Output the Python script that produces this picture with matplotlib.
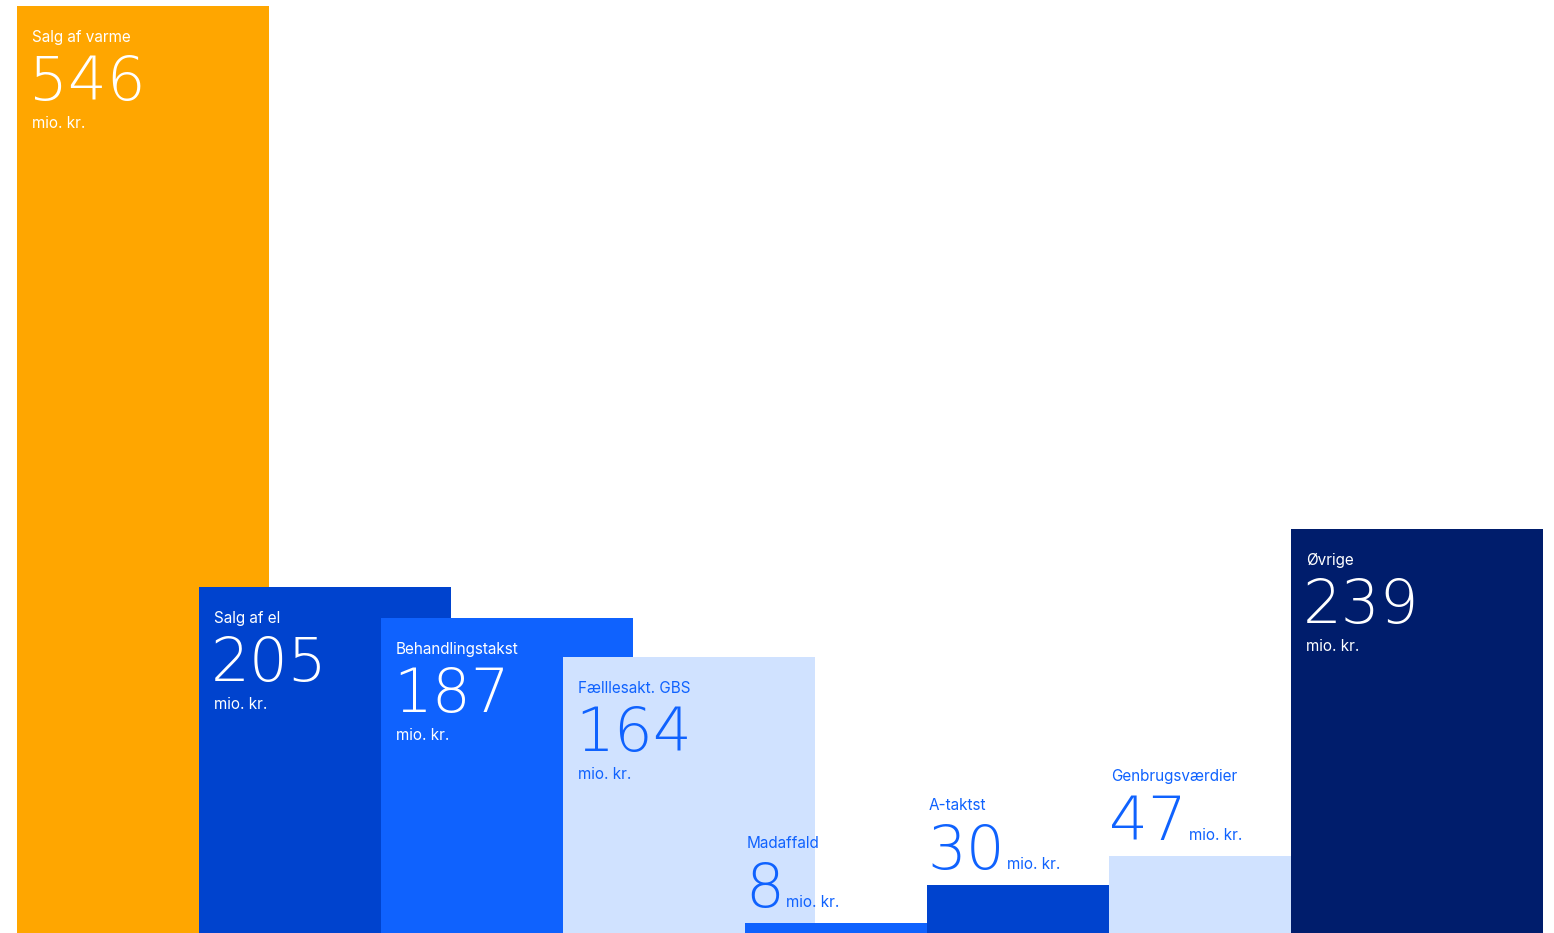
import matplotlib
matplotlib.use("Agg")
import matplotlib.pyplot as plt

# data
labels = ["Salg af varme", "Salg af el", "Behandlingstakst", "Fælllesakt. GBS",
          "Madaffald", "A-taktst", "Genbrugsværdier", "Øvrige"]
values = [546, 205, 187, 164, 8, 30, 47, 239]
colors = ["#FFA600", "#0043CE", "#0F62FE", "#D0E2FF",
          "#0F62FE", "#0043CE", "#D0E2FF", "#001D6C"]
inside = [True, True, True, True, False, False, False, True]

W, H = 1554, 933
bar_w = 252 / 182  # bars overlap, step = 1

fig = plt.figure(figsize=(W / 100, H / 100), dpi=100)
ax = fig.add_axes([17 / W, -3.2 / H, 1526 / W, 930.2 / H])
ax.set_xlim(0, 7 + bar_w)
ax.set_ylim(0, 546)
ax.axis("off")

x = list(range(len(values)))
for i in x:
    ax.bar(i, values[i], width=bar_w, align="edge", color=colors[i], zorder=i + 1)

renderer = fig.canvas.get_renderer()
lab_font = dict(family=["Inter", "DejaVu Sans"], fontsize=11)
num_font = dict(family=["DejaVu Sans"], fontsize=44, fontweight="light")
blue = "#0F62FE"

for i in x:
    v = values[i]
    if inside[i]:
        tc = blue if colors[i] == "#D0E2FF" else "white"
        ax.annotate(labels[i], (i, v), xytext=(15, -24), textcoords="offset pixels",
                    va="top", ha="left", color=tc, zorder=20, **lab_font)
        ax.annotate(str(v), (i, v), xytext=(12, -94), textcoords="offset pixels",
                    va="baseline", ha="left", color=tc, zorder=20, **num_font)
        ax.annotate("mio. kr.", (i, v), xytext=(15, -122), textcoords="offset pixels",
                    va="baseline", ha="left", color=tc, zorder=20, **lab_font)
    else:
        ax.annotate(labels[i], (i, v), xytext=(2, 87), textcoords="offset pixels",
                    va="top", ha="left", color=blue, zorder=20, **lab_font)
        t = ax.annotate(str(v), (i, v), xytext=(0, 16), textcoords="offset pixels",
                        va="baseline", ha="left", color=blue, zorder=20, **num_font)
        wpx = t.get_window_extent(renderer).width
        ax.annotate("mio. kr.", (i, v), xytext=(wpx + 2, 16), textcoords="offset pixels",
                    va="baseline", ha="left", color=blue, zorder=20, **lab_font)

fig.savefig("out.png", dpi=100)
